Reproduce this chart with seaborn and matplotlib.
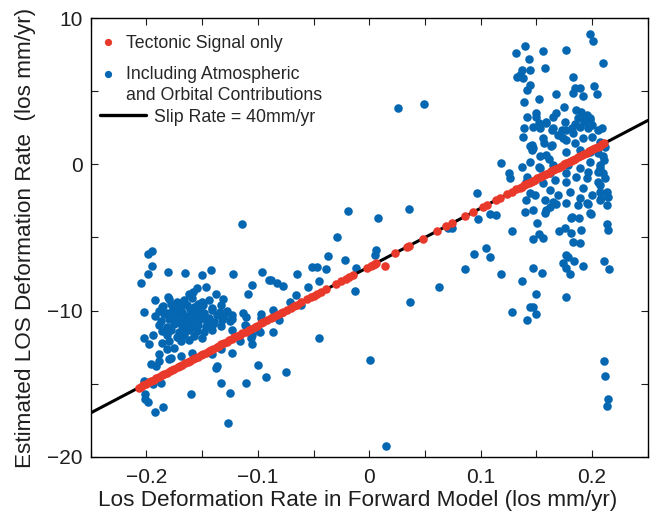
import matplotlib
matplotlib.use("Agg")
import matplotlib.pyplot as plt
from matplotlib.lines import Line2D
from matplotlib.legend_handler import HandlerLine2D
import seaborn as sns
import pandas as pd

# ---------------- data ----------------
# Tectonic signal only (red)
red_x = [-0.207,-0.205,-0.203,-0.200,-0.198,-0.196,-0.193,-0.191,-0.189,-0.186,-0.184,-0.182,-0.179,-0.177,-0.175,
         -0.172,-0.170,-0.168,-0.165,-0.163,-0.161,-0.158,-0.156,-0.154,-0.151,-0.149,-0.147,-0.144,-0.142,-0.140,
         -0.137,-0.135,-0.133,-0.130,-0.128,-0.126,-0.123,-0.121,-0.119,-0.116,-0.114,-0.111,-0.108,-0.106,-0.103,
         -0.101,-0.097,-0.095,-0.092,-0.088,-0.086,-0.083,-0.079,-0.077,-0.074,-0.070,-0.068,-0.065,-0.061,-0.056,
         -0.052,-0.050,-0.047,-0.043,-0.039,-0.030,-0.025,-0.021,-0.018,-0.015,-0.002,0.002,0.003,0.005,0.006,
         0.014,0.023,0.034,0.036,0.048,0.061,0.069,0.074,0.086,0.093,0.102,0.106,0.114,0.117,0.124,0.128,0.132,
         0.135,0.137,0.139,0.141,0.143,0.145,0.147,0.149,0.151,0.153,0.155,0.157,0.159,0.161,0.163,0.165,0.167,
         0.169,0.171,0.173,0.175,0.177,0.179,0.181,0.183,0.185,0.187,0.189,0.191,0.193,0.195,0.197,0.199,0.201,
         0.203,0.205,0.207,0.209,0.211]
red_y = [-15.28,-15.20,-15.12,-15.00,-14.92,-14.84,-14.72,-14.64,-14.56,-14.44,-14.36,-14.28,-14.16,-14.08,-14.00,
         -13.88,-13.80,-13.72,-13.60,-13.52,-13.44,-13.32,-13.24,-13.16,-13.04,-12.96,-12.88,-12.76,-12.68,-12.60,
         -12.48,-12.40,-12.32,-12.20,-12.12,-12.04,-11.92,-11.84,-11.76,-11.64,-11.56,-11.44,-11.32,-11.24,-11.12,
         -11.04,-10.88,-10.80,-10.68,-10.52,-10.44,-10.32,-10.16,-10.08,-9.96,-9.80,-9.72,-9.60,-9.44,-9.24,
         -9.08,-9.00,-8.88,-8.72,-8.56,-8.20,-8.00,-7.84,-7.72,-7.60,-7.08,-6.92,-6.88,-6.80,-6.76,
         -6.95,-6.08,-5.64,-5.56,-5.08,-4.56,-4.24,-4.04,-3.56,-3.28,-2.92,-2.76,-2.44,-2.32,-2.04,-1.88,-1.72,
         -1.60,-1.52,-1.44,-1.36,-1.28,-1.20,-1.12,-1.04,-0.96,-0.88,-0.80,-0.72,-0.64,-0.56,-0.48,-0.40,-0.32,
         -0.24,-0.16,-0.08,0.00,0.08,0.16,0.24,0.32,0.40,0.48,0.56,0.64,0.72,0.80,0.88,0.96,1.04,
         1.12,1.20,1.28,1.36,1.44]

# Including atmospheric and orbital contributions (blue) - left cluster core
left_core_x = [-0.180,-0.173,-0.166,-0.159,-0.150,-0.144,
               -0.185,-0.178,-0.170,-0.164,-0.157,-0.149,-0.141,-0.133,
               -0.189,-0.182,-0.176,-0.168,-0.161,-0.155,-0.148,-0.141,-0.134,-0.128,
               -0.192,-0.184,-0.177,-0.171,-0.164,-0.158,-0.150,-0.144,-0.137,-0.130,-0.123,
               -0.187,-0.180,-0.173,-0.166,-0.159,-0.152,-0.146,-0.139,-0.132,-0.125,
               -0.189,-0.182,-0.175,-0.168,-0.160,-0.154,-0.147,-0.140,-0.133,
               -0.186,-0.178,-0.171,-0.162,-0.155,-0.148,-0.141,
               -0.182,-0.173,-0.166,-0.157,-0.150,
               -0.180,-0.169,-0.162,
               -0.176,-0.169,-0.162,-0.154,-0.146,-0.171,-0.163,-0.156,-0.167,-0.152]
left_core_y = [-9.20,-9.45,-9.30,-9.15,-9.40,-9.30,
               -9.70,-9.55,-9.80,-9.60,-9.75,-9.65,-9.80,-9.60,
               -10.00,-10.15,-9.95,-10.10,-9.90,-10.05,-10.20,-9.95,-10.10,-10.00,
               -10.35,-10.25,-10.45,-10.30,-10.40,-10.25,-10.35,-10.50,-10.30,-10.40,-10.30,
               -10.70,-10.60,-10.80,-10.65,-10.75,-10.60,-10.70,-10.80,-10.65,-10.70,
               -11.00,-11.10,-10.95,-11.05,-11.15,-11.00,-11.10,-10.95,-11.05,
               -11.40,-11.30,-11.45,-11.35,-11.40,-11.50,-11.30,
               -11.70,-11.80,-11.65,-11.75,-11.85,
               -12.05,-12.10,-12.00,
               -9.85,-9.50,-10.55,-9.55,-10.90,-10.15,-10.85,-10.45,-11.25,-9.95]

# left cluster outskirts
left_out_x = [-0.199,-0.195,-0.195,-0.199,-0.205,-0.181,-0.165,-0.150,-0.142,-0.122,-0.096,-0.090,-0.105,-0.109,
              -0.155,-0.158,-0.147,-0.138,-0.131,-0.162,-0.181,-0.192,-0.186,-0.202,-0.113,-0.111,-0.097,-0.123,
              -0.123,-0.111,-0.105,-0.116,-0.105,-0.098,-0.202,-0.198,-0.194,-0.186,-0.189,-0.182,-0.175,-0.171,
              -0.178,-0.169,-0.159,-0.196,-0.191,-0.194,-0.187,-0.202,-0.201,-0.199,-0.201,-0.192,-0.185,-0.160,
              -0.138,-0.137,-0.133,-0.125,-0.127,-0.123,-0.111,-0.100,-0.093,-0.141,-0.133,-0.189,-0.180,-0.112,
              -0.106,-0.114]
left_out_y = [-6.10,-5.96,-6.92,-7.47,-8.15,-7.33,-7.40,-7.60,-7.26,-7.47,-7.33,-7.88,-8.22,-8.84,
              -8.49,-8.70,-8.42,-8.84,-9.18,-8.90,-9.04,-9.25,-9.79,-10.07,-10.14,-10.41,-10.27,-10.55,
              -11.30,-11.03,-11.64,-12.05,-12.26,-11.44,-11.85,-12.26,-11.64,-12.19,-12.95,-12.60,-12.53,-11.85,
              -13.22,-13.08,-12.88,-13.63,-13.77,-15.00,-14.93,-14.79,-16.03,-16.23,-15.68,-16.92,-16.58,-15.68,
              -13.90,-13.77,-14.93,-15.62,-17.67,-12.88,-14.93,-13.70,-14.52,-12.95,-12.60,-13.42,-13.29,-10.96,
              -11.85,-4.11]

# middle scatter
mid_x = [-0.019,0.036,0.008,-0.029,0.006,0.005,-0.037,-0.022,-0.051,-0.047,-0.039,-0.012,-0.065,-0.088,
         -0.083,-0.077,-0.045,-0.055,-0.013,0.063,-0.066,-0.071,-0.061,0.037,-0.086,-0.097,-0.081,-0.099,
         -0.086,-0.045,-0.075,0.001,0.015,0.074,0.026,0.049]
mid_y = [-3.22,-3.08,-3.70,-5.00,-5.89,-6.23,-6.30,-6.51,-7.05,-7.05,-7.19,-7.12,-7.53,-7.88,
         -8.15,-8.29,-7.95,-8.36,-8.63,-8.42,-8.97,-9.45,-9.59,-9.45,-9.93,-10.48,-10.68,-11.37,
         -11.44,-11.85,-14.18,-13.36,-19.25,-4.32,3.84,4.11]

# right cluster
right_x = [0.198,0.201,0.210,0.140,0.132,0.156,0.177,0.143,0.137,0.135,0.138,0.144,0.133,0.158,0.183,0.144,
           0.142,0.168,0.185,0.183,0.189,0.192,0.202,0.204,0.139,0.152,0.175,0.168,0.142,0.150,0.186,0.190,
           0.195,0.198,0.187,0.193,0.200,0.189,0.196,0.185,0.139,0.138,0.147,0.152,0.159,0.165,0.169,0.144,
           0.146,0.157,0.163,0.153,0.159,0.161,0.174,0.177,0.183,0.137,0.118,0.125,0.126,0.097,0.142,0.152,
           0.210,0.207,0.205,0.211,0.205,0.212,0.207,0.213,0.208,0.213,0.141,0.144,0.149,0.140,0.147,0.159,
           0.162,0.168,0.108,0.114,0.182,0.198,0.071,0.098,0.128,0.151,0.147,0.152,0.156,0.158,0.170,0.176,
           0.181,0.190,0.181,0.188,0.183,0.189,0.199,0.196,0.187,0.213,0.214,0.094,0.105,0.108,0.086,0.118,
           0.137,0.147,0.155,0.174,0.177,0.178,0.177,0.180,0.184,0.192,0.211,0.215,0.150,0.177,0.128,0.144,
           0.147,0.150,0.142,0.211,0.212,0.214,0.213,
           0.150,0.159,0.165,0.176,0.192,0.198,0.153,0.164,0.173,0.182,0.205,0.209,0.146,0.147,0.156,0.164,
           0.171,0.177,0.185,0.192,0.200,0.207,0.212,0.177,0.189,0.198,0.144,0.153,0.165,0.178,0.189,0.196,
           0.207,0.210,0.162,0.177,0.198,0.141,0.156,0.167,0.177,0.186,0.195,0.205,0.162,0.169,0.180,0.192,
           0.200,0.207,0.158,0.165,0.177,0.189,0.195,0.207,0.214]
right_y = [8.90,8.42,6.92,8.08,7.60,7.74,7.81,7.19,6.44,6.10,5.89,6.44,5.96,6.58,5.96,5.41,
           5.07,4.79,5.21,4.86,5.21,4.66,5.34,4.79,4.25,4.45,3.90,3.49,3.22,3.49,3.70,3.56,
           3.36,3.15,3.15,2.88,2.67,2.53,2.47,2.74,2.47,1.85,2.53,2.81,2.81,2.47,1.99,1.23,
           0.96,1.44,1.23,0.55,0.62,0.34,1.78,2.33,2.12,-0.21,0.07,-0.62,-0.96,-1.99,-0.89,-0.21,
           0.55,-0.07,0.75,0.27,-0.55,-0.96,-1.44,-1.92,-2.33,-2.81,-2.47,-1.99,-2.12,-3.29,-3.15,-3.15,
           -2.95,-2.74,-3.42,-3.49,-3.63,-3.36,-4.32,-3.77,-4.59,-4.04,-5.14,-4.79,-5.07,-3.36,-4.59,-4.38,
           -4.73,-4.52,-3.70,-3.70,-5.34,-5.41,-3.42,-2.74,-2.81,-4.11,-4.52,-6.16,-5.75,-6.37,-7.19,-7.53,
           -7.95,-7.12,-7.40,-6.78,-6.23,-6.37,-7.12,-7.47,-6.64,-6.92,-6.64,-7.19,-8.90,-9.04,-10.07,-9.79,
           -9.79,-10.27,-10.68,-13.42,-14.45,-16.03,-16.51,
           3.22,2.88,3.22,2.88,3.15,3.01,2.47,2.33,2.33,2.47,2.33,2.47,1.30,1.10,1.78,1.30,
           1.99,1.64,1.44,1.78,1.85,1.51,1.16,0.82,0.96,0.82,0.14,-0.27,-0.07,-0.07,-0.27,-0.55,
           -0.27,-0.62,-0.62,-0.62,0.14,-1.23,-1.30,-1.10,-1.23,-0.89,-0.96,-1.23,-1.78,-2.12,-1.92,-1.64,
           -2.12,-1.92,-2.47,-2.60,-2.67,-2.33,-2.67,-2.47,-2.26]

# slip-rate line (40 mm/yr) end points
line_x = [-0.25, 0.25]
line_y = [-17.0, 3.0]

x_ticks = [-0.2, -0.1, 0, 0.1, 0.2]
x_tick_labels = ["\u22120.2", "\u22120.1", "0", "0.1", "0.2"]
y_ticks = [-20, -10, 0, 10]
y_tick_labels = ["\u221220", "\u221210", "0", "10"]

marker_labels = ["Tectonic Signal only",
                 "Including Atmospheric\nand Orbital Contributions"]
line_label = "Slip Rate = 40mm/yr"

# ---------------- plotting ----------------
sns.set_style("ticks")
plt.rcParams["font.family"] = ["Liberation Sans", "DejaVu Sans"]

RED = "#E8392B"
BLUE = "#0567B2"
TXT = "#1e1e1e"

blue_df = pd.DataFrame({"x": left_core_x + left_out_x + mid_x + right_x,
                        "y": left_core_y + left_out_y + mid_y + right_y})
red_df = pd.DataFrame({"x": red_x, "y": red_y})
line_df = pd.DataFrame({"x": line_x, "y": line_y})

fig = plt.figure(figsize=(6.53, 5.19), dpi=100)
ax = fig.add_axes([0.139, 0.120, 0.853, 0.845])

sns.scatterplot(data=blue_df, x="x", y="y", ax=ax, color=BLUE, s=38, linewidth=0, zorder=2)
sns.lineplot(data=line_df, x="x", y="y", ax=ax, color="black", lw=2.2, zorder=3)
sns.scatterplot(data=red_df, x="x", y="y", ax=ax, color=RED, s=38, linewidth=0, zorder=4)

ax.set_xlim(-0.25, 0.25)
ax.set_ylim(-20, 10)
ax.set_xticks(x_ticks)
ax.set_xticklabels(x_tick_labels)
ax.set_yticks(y_ticks)
ax.set_yticklabels(y_tick_labels)
ax.set_xticks([-0.25, -0.15, -0.05, 0.05, 0.15, 0.25], minor=True)
ax.set_yticks([-15, -5, 5], minor=True)
ax.tick_params(which="both", direction="in", top=True, right=True, length=5, width=0.8,
               labelsize=15, colors=TXT)
ax.tick_params(axis="x", pad=8)
ax.tick_params(axis="y", pad=6)
for sp in ax.spines.values():
    sp.set_linewidth(1.0)
    sp.set_color("black")

ax.set_xlabel("Los Deformation Rate in Forward Model (los mm/yr)", fontsize=16.2, color=TXT)
ax.xaxis.set_label_coords(0.479, -0.077, transform=ax.transAxes)
ax.xaxis.label.set_va("top")
ax.set_ylabel("Estimated LOS Deformation Rate  (los mm/yr)", fontsize=16.2, labelpad=8, color=TXT)

fs = 12.8


class TopAlignedHandler(HandlerLine2D):
    """Place the marker next to the first text line of a two-line label."""
    def __init__(self, dy, **kw):
        super().__init__(**kw)
        self.dy = dy

    def create_artists(self, legend, orig_handle, xdescent, ydescent, width, height, fontsize, trans):
        arts = super().create_artists(legend, orig_handle, xdescent, ydescent, width, height,
                                      fontsize, trans)
        for a in arts:
            a.set_ydata([v + self.dy for v in a.get_ydata()])
        return arts


h_red = Line2D([], [], marker="o", ls="", color=RED, markersize=4.2)
h_blue = Line2D([], [], marker="o", ls="", color=BLUE, markersize=4.2)
leg1 = ax.legend([h_red, h_blue], marker_labels, loc="upper left", frameon=False, fontsize=fs,
                 handlelength=1.0, handletextpad=0.5, borderpad=0, borderaxespad=0,
                 labelspacing=0.78, bbox_to_anchor=(99 / 653, 1 - 35.5 / 519),
                 bbox_transform=fig.transFigure,
                 handler_map={h_blue: TopAlignedHandler(dy=0.64 * fs)})
for t in leg1.get_texts():
    t.set_linespacing(1.28)
ax.add_artist(leg1)
h_line = [Line2D([], [], color="black", lw=2.4)]
ax.legend(h_line, [line_label], loc="upper left", frameon=False, fontsize=fs,
          handlelength=2.6, handletextpad=0.45, borderpad=0, borderaxespad=0,
          bbox_to_anchor=(100 / 653, 1 - 108.5 / 519), bbox_transform=fig.transFigure)

fig.savefig("out.png", dpi=100)
